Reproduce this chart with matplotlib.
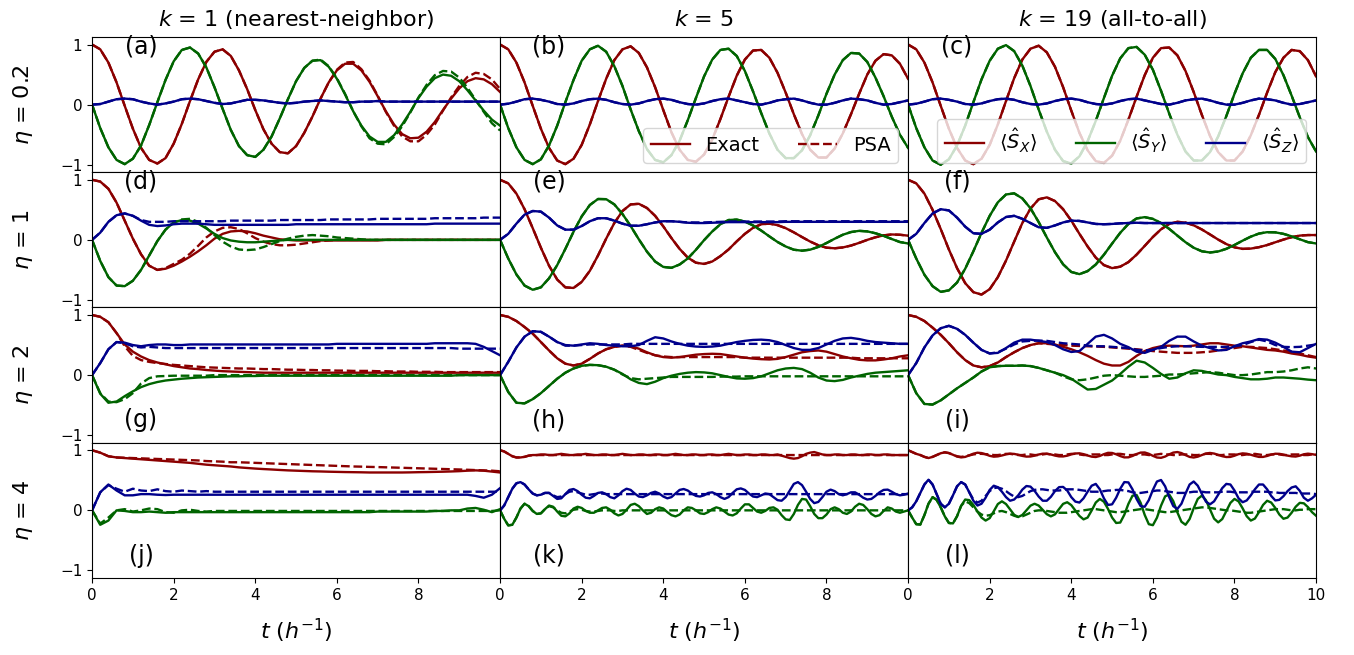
import numpy as np
import matplotlib
matplotlib.use("Agg")
import matplotlib.pyplot as plt

# sample times in units of 1/h
t_coarse = np.linspace(0, 10, 51)   # step 0.2
t_fine = np.linspace(0, 10, 101)    # step 0.1 (fast eta = 4 panels)

# ---------------- row eta = 0.2 ----------------
a_sx = [1.00, 0.92, 0.70, 0.37, -0.02, -0.40, -0.72, -0.92, -0.98, -0.89,
        -0.65, -0.32, 0.06, 0.42, 0.71, 0.88, 0.92, 0.81, 0.57, 0.26,
        -0.09, -0.41, -0.65, -0.79, -0.81, -0.69, -0.47, -0.20, 0.10, 0.37,
        0.57, 0.68, 0.68, 0.57, 0.38, 0.14, -0.11, -0.33, -0.49, -0.56,
        -0.55, -0.45, -0.29, -0.09, 0.10, 0.27, 0.39, 0.44, 0.42, 0.34,
        0.21]
a_sx_psa = [1.00, 0.92, 0.70, 0.37, -0.02, -0.40, -0.72, -0.92, -0.98, -0.89,
            -0.65, -0.32, 0.06, 0.42, 0.71, 0.88, 0.92, 0.81, 0.57, 0.26,
            -0.09, -0.41, -0.65, -0.79, -0.81, -0.69, -0.47, -0.20, 0.10, 0.37,
            0.58, 0.70, 0.71, 0.59, 0.40, 0.15, -0.12, -0.35, -0.53, -0.61,
            -0.61, -0.50, -0.33, -0.10, 0.12, 0.31, 0.46, 0.53, 0.51, 0.42,
            0.26]
a_sy = [0.00, -0.39, -0.71, -0.92, -0.99, -0.90, -0.68, -0.34, 0.04, 0.41,
        0.72, 0.91, 0.95, 0.85, 0.62, 0.29, -0.07, -0.42, -0.69, -0.84,
        -0.87, -0.75, -0.53, -0.23, 0.09, 0.39, 0.61, 0.73, 0.74, 0.63,
        0.43, 0.17, -0.11, -0.35, -0.53, -0.62, -0.62, -0.51, -0.33, -0.12,
        0.11, 0.30, 0.44, 0.50, 0.48, 0.39, 0.24, 0.07, -0.10, -0.25,
        -0.35]
a_sy_psa = [0.00, -0.39, -0.71, -0.92, -0.99, -0.90, -0.68, -0.34, 0.04, 0.41,
            0.72, 0.91, 0.95, 0.85, 0.62, 0.29, -0.07, -0.42, -0.69, -0.84,
            -0.87, -0.75, -0.53, -0.23, 0.09, 0.39, 0.61, 0.73, 0.75, 0.64,
            0.44, 0.18, -0.11, -0.36, -0.56, -0.65, -0.66, -0.54, -0.36, -0.13,
            0.12, 0.33, 0.49, 0.56, 0.55, 0.45, 0.28, 0.08, -0.12, -0.31,
            -0.43]
a_sz = [0.00, 0.01, 0.05, 0.09, 0.10, 0.09, 0.05, 0.02, 0.00, 0.02,
        0.05, 0.09, 0.10, 0.09, 0.06, 0.03, 0.01, 0.02, 0.05, 0.08,
        0.08, 0.07, 0.05, 0.03, 0.02, 0.03, 0.05, 0.06, 0.07, 0.06,
        0.05, 0.04, 0.04, 0.05, 0.05, 0.06, 0.05, 0.05, 0.05, 0.05,
        0.05, 0.05, 0.05, 0.05, 0.05, 0.05, 0.05, 0.05, 0.05, 0.05,
        0.05]
a_sz_psa = a_sz

b_sx = [1.00, 0.92, 0.70, 0.37, -0.02, -0.40, -0.72, -0.93, -0.99, -0.90,
        -0.67, -0.33, 0.06, 0.43, 0.74, 0.92, 0.97, 0.86, 0.62, 0.29,
        -0.09, -0.46, -0.75, -0.92, -0.95, -0.83, -0.58, -0.24, 0.13, 0.48,
        0.75, 0.90, 0.91, 0.78, 0.53, 0.20, -0.16, -0.49, -0.75, -0.88,
        -0.88, -0.73, -0.48, -0.16, 0.18, 0.50, 0.73, 0.84, 0.82, 0.68,
        0.43]
b_sy = [0.00, -0.39, -0.71, -0.92, -0.99, -0.91, -0.68, -0.35, 0.04, 0.41,
        0.73, 0.92, 0.98, 0.88, 0.64, 0.31, -0.08, -0.44, -0.74, -0.92,
        -0.96, -0.84, -0.60, -0.26, 0.11, 0.47, 0.75, 0.91, 0.93, 0.81,
        0.56, 0.22, -0.14, -0.48, -0.75, -0.89, -0.89, -0.76, -0.51, -0.18,
        0.18, 0.50, 0.74, 0.86, 0.85, 0.71, 0.45, 0.14, -0.20, -0.50,
        -0.72]
b_sz = [0.00, 0.015, 0.05, 0.09, 0.10, 0.08, 0.05, 0.01, 0.00, 0.02,
        0.06, 0.09, 0.10, 0.08, 0.04, 0.01, 0.00, 0.02, 0.06, 0.09,
        0.10, 0.08, 0.04, 0.01, 0.00, 0.02, 0.06, 0.09, 0.10, 0.07,
        0.04, 0.01, 0.00, 0.03, 0.07, 0.09, 0.10, 0.07, 0.03, 0.00,
        0.00, 0.03, 0.07, 0.10, 0.09, 0.07, 0.03, 0.00, 0.01, 0.04,
        0.07]
b_sx_psa, b_sy_psa, b_sz_psa = b_sx, b_sy, b_sz

c_sx = [1.00, 0.92, 0.70, 0.37, -0.02, -0.40, -0.72, -0.93, -0.99, -0.90,
        -0.67, -0.33, 0.06, 0.44, 0.75, 0.93, 0.98, 0.87, 0.63, 0.29,
        -0.10, -0.47, -0.76, -0.94, -0.97, -0.85, -0.60, -0.25, 0.13, 0.49,
        0.78, 0.94, 0.95, 0.82, 0.56, 0.21, -0.17, -0.52, -0.79, -0.93,
        -0.93, -0.78, -0.51, -0.17, 0.20, 0.54, 0.78, 0.91, 0.89, 0.74,
        0.47]
c_sy = [0.00, -0.39, -0.71, -0.93, -1.00, -0.91, -0.68, -0.35, 0.04, 0.42,
        0.73, 0.93, 0.99, 0.89, 0.65, 0.31, -0.08, -0.45, -0.75, -0.94,
        -0.98, -0.86, -0.61, -0.27, 0.11, 0.48, 0.77, 0.94, 0.96, 0.83,
        0.58, 0.23, -0.15, -0.50, -0.78, -0.93, -0.93, -0.79, -0.53, -0.19,
        0.18, 0.52, 0.78, 0.91, 0.91, 0.76, 0.49, 0.15, -0.21, -0.54,
        -0.78]
c_sz = b_sz
c_sx_psa, c_sy_psa, c_sz_psa = c_sx, c_sy, c_sz

# ---------------- row eta = 1 ----------------
d_sx = [1.00, 0.97, 0.85, 0.62, 0.32, 0.02, -0.24, -0.43, -0.50, -0.48,
        -0.43, -0.36, -0.28, -0.19, -0.09, 0.02, 0.10, 0.14, 0.15, 0.14,
        0.11, 0.07, 0.04, 0.01, 0.00, -0.01, -0.01, -0.01, -0.01, -0.01,
        -0.01, -0.01, -0.01, -0.01, -0.01, -0.01] + [0.00] * 15
d_sx_psa = [1.00, 0.97, 0.85, 0.62, 0.32, 0.02, -0.24, -0.43, -0.50, -0.47,
            -0.40, -0.33, -0.23, -0.10, 0.04, 0.14, 0.20, 0.21, 0.18, 0.11,
            0.03, -0.03, -0.07, -0.09, -0.09, -0.08, -0.06, -0.04, -0.02, -0.01] + [0.00] * 21
d_sy = [0.00, -0.35, -0.62, -0.76, -0.77, -0.68, -0.50, -0.26, -0.02, 0.17,
        0.29, 0.33, 0.32, 0.27, 0.19, 0.10, 0.03, -0.01, -0.03, -0.04,
        -0.04, -0.03, -0.02, -0.01] + [0.00] * 27
d_sy_psa = [0.00, -0.35, -0.62, -0.76, -0.77, -0.68, -0.50, -0.26, -0.02, 0.17,
            0.29, 0.34, 0.35, 0.30, 0.20, 0.08, -0.03, -0.11, -0.16, -0.17,
            -0.16, -0.12, -0.07, -0.02, 0.02, 0.05, 0.07, 0.08, 0.07, 0.06,
            0.04, 0.03, 0.02, 0.01] + [0.00] * 17
d_sz = [0.00, 0.12, 0.30, 0.41, 0.44, 0.40, 0.32, 0.25, 0.23, 0.24,
        0.26, 0.27, 0.27, 0.27, 0.26, 0.25, 0.25, 0.25, 0.25, 0.25,
        0.25, 0.25, 0.25, 0.25, 0.25, 0.26, 0.26, 0.26, 0.26, 0.26] + [0.26] * 12 + [0.27] * 9
d_sz_psa = [0.00, 0.12, 0.30, 0.41, 0.44, 0.40, 0.33, 0.30, 0.30, 0.30,
            0.31, 0.31, 0.31, 0.31, 0.31, 0.31, 0.31, 0.32, 0.32, 0.32,
            0.32, 0.32, 0.32, 0.33, 0.33, 0.33, 0.33, 0.33, 0.33, 0.34,
            0.34, 0.34, 0.34, 0.34, 0.34, 0.35, 0.35, 0.35, 0.35, 0.35,
            0.35, 0.35, 0.36, 0.36, 0.36, 0.36, 0.36, 0.36, 0.37, 0.37,
            0.37]

e_sx = [1.00, 0.94, 0.77, 0.51, 0.195, -0.13, -0.43, -0.66, -0.79, -0.80,
        -0.70, -0.515, -0.26, 0.02, 0.28, 0.48, 0.59, 0.60, 0.53, 0.40,
        0.225, 0.03, -0.15, -0.295, -0.38, -0.40, -0.36, -0.27, -0.16, -0.025,
        0.10, 0.20, 0.26, 0.27, 0.245, 0.195, 0.125, 0.047, -0.028, -0.09,
        -0.13, -0.14, -0.126, -0.095, -0.05, 0.00, 0.043, 0.075, 0.09, 0.085,
        0.07]
e_sy = [0.00, -0.31, -0.575, -0.76, -0.83, -0.79, -0.64, -0.42, -0.15, 0.135,
        0.39, 0.58, 0.68, 0.677, 0.59, 0.43, 0.23, 0.01, -0.196, -0.36,
        -0.45, -0.465, -0.41, -0.31, -0.165, -0.005, 0.14, 0.26, 0.33, 0.337,
        0.305, 0.24, 0.155, 0.058, -0.035, -0.11, -0.164, -0.18, -0.163, -0.117,
        -0.053, 0.019, 0.085, 0.13, 0.15, 0.141, 0.11, 0.067, 0.014, -0.036,
        -0.06]
e_sz = [0.00, 0.10, 0.27, 0.42, 0.48, 0.47, 0.37, 0.24, 0.17, 0.17,
        0.23, 0.31, 0.36, 0.36, 0.32, 0.27, 0.235, 0.235, 0.26, 0.29,
        0.31, 0.31, 0.30, 0.285, 0.28, 0.28, 0.285, 0.29, 0.295, 0.295] + [0.295] * 5 + [0.30] * 16
e_sz_psa = [0.00, 0.10, 0.27, 0.42, 0.48, 0.47, 0.37, 0.24, 0.17, 0.17,
            0.23, 0.31, 0.36, 0.36, 0.32, 0.27, 0.235, 0.235, 0.26, 0.29,
            0.31, 0.31, 0.30, 0.29, 0.29, 0.29, 0.295, 0.30, 0.305, 0.305] + [0.305] * 5 + [0.31] * 16
e_sx_psa, e_sy_psa = e_sx, e_sy

f_sx = [1.00, 0.94, 0.77, 0.50, 0.18, -0.16, -0.47, -0.72, -0.87, -0.91,
        -0.82, -0.62, -0.345, -0.03, 0.28, 0.52, 0.675, 0.707, 0.646, 0.51,
        0.32, 0.10, -0.11, -0.295, -0.42, -0.47, -0.446, -0.37, -0.246, -0.10,
        0.048, 0.176, 0.265, 0.30, 0.287, 0.242, 0.173, 0.09, 0.005, -0.07,
        -0.124, -0.15, -0.145, -0.122, -0.086, -0.04, 0.005, 0.044, 0.071, 0.08,
        0.08]
f_sy = [0.00, -0.31, -0.58, -0.77, -0.865, -0.84, -0.71, -0.48, -0.19, 0.117,
        0.40, 0.625, 0.755, 0.774, 0.69, 0.525, 0.297, 0.04, -0.205, -0.407,
        -0.534, -0.57, -0.52, -0.41, -0.247, -0.062, 0.118, 0.265, 0.356, 0.378,
        0.349, 0.28, 0.183, 0.071, -0.039, -0.131, -0.19, -0.21, -0.193, -0.149,
        -0.085, -0.013, 0.054, 0.105, 0.128, 0.125, 0.10, 0.059, 0.01, -0.038,
        -0.06]
f_sz = [0.00, 0.10, 0.28, 0.44, 0.51, 0.49, 0.37, 0.22, 0.11, 0.10,
        0.17, 0.29, 0.38, 0.40, 0.35, 0.28, 0.21, 0.20, 0.24, 0.29,
        0.32, 0.315, 0.29, 0.265, 0.26, 0.265, 0.275, 0.28, 0.285, 0.28] + [0.28] * 21
f_sx_psa, f_sy_psa, f_sz_psa = f_sx, f_sy, f_sz

# ---------------- row eta = 2 ----------------
g_sx = [1.00, 0.97, 0.88, 0.70, 0.51, 0.39, 0.31, 0.25, 0.21, 0.18,
        0.15, 0.13, 0.11, 0.10, 0.085, 0.075, 0.065, 0.06, 0.055, 0.05,
        0.045] + [0.04] * 30
g_sx_psa = [1.00, 0.97, 0.88, 0.70, 0.48, 0.32, 0.25, 0.22, 0.20, 0.185,
            0.17, 0.16, 0.15, 0.14, 0.13, 0.125, 0.12, 0.115, 0.11, 0.11,
            0.105, 0.10, 0.10, 0.095, 0.09, 0.09, 0.085, 0.085, 0.08, 0.08,
            0.075, 0.075, 0.07, 0.07, 0.07, 0.065, 0.065, 0.06, 0.06, 0.06,
            0.055, 0.055, 0.055, 0.05, 0.05, 0.05, 0.05, 0.05, 0.05, 0.05,
            0.05]
g_sy = [0.00, -0.31, -0.46, -0.44, -0.35, -0.27, -0.20, -0.15, -0.115, -0.09,
        -0.075, -0.06, -0.05, -0.04, -0.035, -0.03, -0.025, -0.02, -0.02, -0.015,
        -0.015] + [-0.01] * 24 + [0.00] * 6
g_sy_psa = [0.00, -0.30, -0.44, -0.45, -0.40, -0.30, -0.14, -0.05, -0.02, -0.015] + \
           [-0.01] * 5 + [0.00] * 36
g_sz = [0.00, 0.20, 0.43, 0.55, 0.54, 0.50, 0.48, 0.50, 0.51, 0.51,
        0.50, 0.50, 0.51, 0.51, 0.51, 0.51, 0.51, 0.51, 0.51, 0.51] + [0.51] * 10 + [0.52] * 10 + \
       [0.52, 0.52, 0.53, 0.53, 0.53, 0.53, 0.53, 0.52, 0.47, 0.40, 0.33]
g_sz_psa = [0.00, 0.20, 0.43, 0.55, 0.53, 0.48, 0.46, 0.47, 0.46, 0.45] + [0.45] * 35 + [0.44] * 6

h_sx = [1.00, 0.97, 0.90, 0.80, 0.69, 0.55, 0.41, 0.28, 0.19, 0.16,
        0.19, 0.27, 0.36, 0.43, 0.47, 0.49, 0.48, 0.44, 0.38, 0.33,
        0.30, 0.29, 0.30, 0.32, 0.34, 0.35, 0.355, 0.35, 0.33, 0.31,
        0.29, 0.275, 0.265, 0.26, 0.27, 0.30, 0.34, 0.38, 0.40, 0.41,
        0.39, 0.35, 0.31, 0.28, 0.255, 0.245, 0.245, 0.26, 0.28, 0.31,
        0.33]
h_sx_psa = [1.00, 0.97, 0.90, 0.80, 0.69, 0.55, 0.41, 0.28, 0.19, 0.16,
            0.19, 0.27, 0.36, 0.43, 0.47, 0.49, 0.47, 0.42, 0.37, 0.33,
            0.31] + [0.30] * 9 + [0.29] * 14 + [0.28] * 7
h_sy = [0.00, -0.28, -0.46, -0.47, -0.40, -0.30, -0.18, -0.06, 0.04, 0.11,
        0.155, 0.17, 0.165, 0.14, 0.09, 0.02, -0.07, -0.13, -0.15, -0.11,
        -0.05, -0.01, 0.02, 0.04, 0.05, 0.045, 0.03, 0.00, -0.03, -0.055,
        -0.06, -0.05, -0.02, 0.03, 0.08, 0.11, 0.12, 0.10, 0.04, -0.04,
        -0.09, -0.10, -0.08, -0.04, -0.01, 0.02, 0.04, 0.05, 0.06, 0.07,
        0.08]
h_sy_psa = [0.00, -0.28, -0.46, -0.47, -0.40, -0.30, -0.18, -0.06, 0.04, 0.11,
            0.155, 0.17, 0.165, 0.14, 0.09, 0.01, -0.05, -0.07, -0.06, -0.05,
            -0.04, -0.03, -0.03, -0.03, -0.03, -0.03, -0.03, -0.025, -0.025, -0.025] + [-0.02] * 21
h_sz = [0.00, 0.22, 0.46, 0.64, 0.73, 0.72, 0.64, 0.55, 0.50, 0.49,
        0.51, 0.53, 0.52, 0.50, 0.49, 0.48, 0.48, 0.50, 0.57, 0.63,
        0.61, 0.56, 0.52, 0.49, 0.475, 0.47, 0.475, 0.49, 0.52, 0.55,
        0.57, 0.585, 0.59, 0.58, 0.55, 0.50, 0.45, 0.42, 0.42, 0.45,
        0.51, 0.57, 0.61, 0.62, 0.60, 0.57, 0.55, 0.54, 0.53, 0.52,
        0.52]
h_sz_psa = [0.00, 0.22, 0.46, 0.64, 0.73, 0.72, 0.64, 0.55, 0.49, 0.49,
            0.50, 0.51, 0.51, 0.51, 0.51, 0.51] + [0.52] * 35

i_sx = [1.00, 0.97, 0.90, 0.79, 0.67, 0.53, 0.38, 0.25, 0.16, 0.13,
        0.15, 0.21, 0.30, 0.38, 0.45, 0.50, 0.53, 0.53, 0.51, 0.47,
        0.43, 0.38, 0.32, 0.25, 0.19, 0.16, 0.16, 0.22, 0.32, 0.40,
        0.45, 0.48, 0.49, 0.485, 0.48, 0.49, 0.51, 0.53, 0.53, 0.51,
        0.49, 0.48, 0.46, 0.44, 0.42, 0.41, 0.39, 0.36, 0.34, 0.31,
        0.29]
i_sx_psa = [1.00, 0.97, 0.90, 0.79, 0.67, 0.53, 0.38, 0.25, 0.16, 0.13,
            0.15, 0.21, 0.30, 0.38, 0.45, 0.50, 0.53, 0.52, 0.51, 0.50,
            0.49, 0.485, 0.48, 0.475, 0.47, 0.46, 0.45, 0.44, 0.43, 0.415,
            0.40, 0.39, 0.38, 0.37, 0.37, 0.37, 0.38, 0.39, 0.41, 0.43,
            0.45, 0.47, 0.47, 0.46, 0.45, 0.43, 0.41, 0.39, 0.36, 0.33,
            0.30]
i_sy = [0.00, -0.30, -0.48, -0.49, -0.42, -0.32, -0.22, -0.13, -0.04, 0.06,
        0.13, 0.15, 0.155, 0.155, 0.16, 0.15, 0.12, 0.08, 0.04, 0.00,
        -0.06, -0.15, -0.24, -0.23, -0.16, -0.09, 0.02, 0.14, 0.24, 0.21,
        0.12, 0.02, -0.06, -0.04, 0.03, 0.08, 0.07, 0.04, 0.01, 0.00,
        -0.03, -0.05, -0.07, -0.07, -0.06, -0.04, -0.04, -0.05, -0.06, -0.075,
        -0.085]
i_sy_psa = [0.00, -0.30, -0.48, -0.49, -0.42, -0.32, -0.22, -0.13, -0.04, 0.06,
            0.13, 0.15, 0.155, 0.155, 0.16, 0.15, 0.12, 0.08, 0.04, -0.02,
            -0.07, -0.085, -0.07, -0.04, -0.01, 0.00, -0.01, -0.02, -0.03, -0.03,
            -0.02, -0.01, 0.01, 0.01, 0.02, 0.03, 0.04, 0.05, 0.04, 0.02,
            0.00, 0.00, 0.01, 0.03, 0.05, 0.05, 0.06, 0.08, 0.11, 0.13,
            0.11]
i_sz = [0.00, 0.20, 0.46, 0.66, 0.78, 0.82, 0.77, 0.67, 0.54, 0.42,
        0.36, 0.37, 0.45, 0.54, 0.59, 0.59, 0.57, 0.55, 0.50, 0.43,
        0.385, 0.40, 0.52, 0.64, 0.67, 0.61, 0.52, 0.465, 0.39, 0.37,
        0.42, 0.47, 0.57, 0.64, 0.64, 0.56, 0.49, 0.45, 0.41, 0.42,
        0.48, 0.53, 0.56, 0.60, 0.59, 0.54, 0.47, 0.39, 0.38, 0.45,
        0.52]
i_sz_psa = [0.00, 0.20, 0.46, 0.66, 0.78, 0.82, 0.77, 0.67, 0.54, 0.42,
            0.36, 0.38, 0.44, 0.51, 0.56, 0.57, 0.575, 0.57, 0.55, 0.53,
            0.52, 0.51, 0.49, 0.48, 0.48, 0.47, 0.46, 0.45, 0.42, 0.41,
            0.42, 0.45, 0.47, 0.48, 0.48, 0.475, 0.47, 0.47, 0.47, 0.47,
            0.48, 0.50, 0.55, 0.59, 0.56, 0.50, 0.47, 0.465, 0.47, 0.49,
            0.51]

# ---------------- row eta = 4 ----------------
j_sx = [1.00, 0.96, 0.90, 0.88, 0.87, 0.86, 0.85, 0.84, 0.83, 0.82,
        0.81, 0.80, 0.79, 0.775, 0.76, 0.75, 0.74, 0.73, 0.715, 0.705,
        0.695, 0.687, 0.68, 0.672, 0.665, 0.66, 0.655, 0.65, 0.647, 0.643,
        0.64, 0.637, 0.635, 0.633, 0.63, 0.63, 0.63, 0.63, 0.63, 0.632,
        0.635, 0.637, 0.64, 0.643, 0.647, 0.652, 0.66, 0.665, 0.66, 0.645,
        0.63]
j_sx_psa = [1.00, 0.96, 0.90, 0.88, 0.875, 0.87, 0.865, 0.86, 0.855, 0.85,
            0.845, 0.84, 0.835, 0.83, 0.82, 0.815, 0.81, 0.80, 0.80, 0.795,
            0.79, 0.785, 0.78, 0.775, 0.77, 0.765, 0.76, 0.755, 0.75, 0.745,
            0.74, 0.735, 0.73, 0.727, 0.723, 0.72, 0.716, 0.712, 0.708, 0.704,
            0.70, 0.696, 0.692, 0.688, 0.684, 0.68, 0.675, 0.67, 0.665, 0.66,
            0.65]
j_sy = [0.00, -0.24, -0.17, 0.00, -0.01, -0.03, -0.03, -0.02, -0.03, -0.04] + [-0.03] * 25 + \
       [-0.02] * 7 + [-0.01, -0.01, 0.00, 0.00, 0.03, 0.04, 0.01, -0.03, 0.02]
j_sy_psa = [0.00, -0.22, -0.12, 0.00, 0.02, -0.02, 0.00, 0.03, 0.02, -0.03,
            -0.04, 0.00, 0.01, -0.01, -0.02] + [-0.01] * 35 + [0.00]
j_sz = [0.00, 0.30, 0.43, 0.33, 0.25, 0.25, 0.27, 0.27, 0.26, 0.255] + [0.26] * 37 + \
       [0.24, 0.21, 0.26, 0.37]
j_sz_psa = [0.00, 0.30, 0.42, 0.36, 0.31, 0.36, 0.33, 0.32, 0.35, 0.32,
            0.31, 0.33, 0.32, 0.31, 0.32] + [0.31] * 36

k_sx = [1.00, 0.98, 0.94, 0.90, 0.88, 0.88, 0.89, 0.91, 0.92, 0.92,
        0.93, 0.93, 0.92, 0.92, 0.93, 0.94, 0.93, 0.92, 0.92, 0.93,
        0.93, 0.94, 0.93, 0.92, 0.92, 0.93, 0.93, 0.92, 0.92, 0.93,
        0.94, 0.93, 0.92, 0.92, 0.93, 0.93, 0.92, 0.92, 0.93, 0.93,
        0.92, 0.92, 0.93, 0.94, 0.93, 0.92, 0.92, 0.93, 0.93, 0.92,
        0.92, 0.93, 0.93, 0.92, 0.92, 0.93, 0.94, 0.93, 0.92, 0.92,
        0.93, 0.93, 0.92, 0.92, 0.93, 0.93, 0.92, 0.92, 0.93, 0.91,
        0.89, 0.87, 0.86, 0.87, 0.90, 0.94, 0.96, 0.97, 0.95, 0.93,
        0.92, 0.92, 0.93, 0.93, 0.92, 0.92, 0.93, 0.93, 0.92, 0.92,
        0.93, 0.93, 0.92, 0.92, 0.93, 0.93, 0.92, 0.92, 0.92, 0.92,
        0.92]
k_sx_psa = [1.00, 0.98, 0.94, 0.90, 0.88, 0.88, 0.89, 0.91, 0.92, 0.92] + [0.92] * 91
k_sy = [0.00, -0.14, -0.25, -0.24, -0.12, 0.03, 0.11, 0.07, -0.01, -0.06,
        -0.05, 0.02, 0.08, 0.06, -0.02, -0.09, -0.10, -0.05, 0.03, 0.06,
        0.04, -0.01, -0.04, -0.04, 0.00, 0.04, 0.05, 0.01, -0.05, -0.085,
        -0.06, 0.01, 0.09, 0.11, 0.07, 0.00, -0.06, -0.04, 0.02, 0.05,
        0.03, -0.03, -0.08, -0.10, -0.07, 0.00, 0.05, 0.04, 0.00, -0.05,
        -0.06, -0.03, 0.02, 0.05, 0.03, -0.02, -0.07, -0.085, -0.05, 0.03,
        0.10, 0.10, 0.04, -0.02, -0.04, -0.01, 0.04, 0.05, 0.01, -0.08,
        -0.15, -0.16, -0.06, 0.09, 0.19, 0.18, 0.07, -0.06, -0.13, -0.13,
        -0.07, 0.02, 0.05, 0.02, -0.04, -0.06, -0.02, 0.06, 0.11, 0.09,
        0.02, -0.06, -0.10, -0.08, -0.01, 0.05, 0.03, -0.02, -0.04, -0.02,
        0.00]
k_sy_psa = [0.00, -0.14, -0.25, -0.24, -0.12, 0.03, 0.11, 0.07, -0.01, -0.06,
            -0.05, 0.02, 0.07, 0.05, 0.00, -0.04, -0.05, -0.02, 0.01, 0.02,
            0.01, -0.01, -0.02, -0.02, -0.01, 0.00, 0.00, 0.00, -0.01, -0.01] + [0.00] * 71
k_sz = [0.00, 0.08, 0.22, 0.36, 0.45, 0.47, 0.43, 0.35, 0.28, 0.25,
        0.26, 0.29, 0.29, 0.24, 0.19, 0.20, 0.27, 0.34, 0.355, 0.32,
        0.26, 0.21, 0.20, 0.24, 0.29, 0.30, 0.27, 0.22, 0.20, 0.25,
        0.32, 0.36, 0.34, 0.28, 0.23, 0.22, 0.25, 0.29, 0.31, 0.28,
        0.23, 0.20, 0.22, 0.28, 0.34, 0.355, 0.33, 0.28, 0.24, 0.23,
        0.25, 0.29, 0.30, 0.27, 0.22, 0.19, 0.22, 0.29, 0.35, 0.365,
        0.34, 0.28, 0.23, 0.22, 0.25, 0.28, 0.27, 0.22, 0.17, 0.16,
        0.22, 0.33, 0.44, 0.47, 0.42, 0.31, 0.19, 0.12, 0.14, 0.22,
        0.31, 0.345, 0.32, 0.27, 0.25, 0.27, 0.30, 0.30, 0.26, 0.21,
        0.18, 0.19, 0.24, 0.30, 0.34, 0.345, 0.31, 0.27, 0.25, 0.26,
        0.28]
k_sz_psa = [0.00, 0.08, 0.22, 0.36, 0.45, 0.47, 0.43, 0.35, 0.28, 0.25,
            0.26, 0.29, 0.29, 0.25, 0.22, 0.23, 0.27, 0.31, 0.32, 0.30,
            0.28, 0.26, 0.26, 0.27, 0.28, 0.28, 0.27, 0.27, 0.27, 0.27] + [0.27] * 71

l_sx = [1.00, 0.97, 0.94, 0.92, 0.89, 0.87, 0.89, 0.92, 0.95, 0.965,
        0.953, 0.925, 0.895, 0.881, 0.889, 0.915, 0.943, 0.959, 0.953, 0.933,
        0.907, 0.893, 0.898, 0.913, 0.931, 0.943, 0.939, 0.925, 0.906, 0.894,
        0.896, 0.91, 0.929, 0.943, 0.943, 0.93, 0.911, 0.898, 0.897, 0.909,
        0.931, 0.946, 0.949, 0.935, 0.913, 0.893, 0.887, 0.905, 0.935, 0.957,
        0.955, 0.933, 0.903, 0.881, 0.882, 0.905, 0.937, 0.961, 0.963, 0.941,
        0.907, 0.879, 0.874, 0.895, 0.931, 0.961, 0.97, 0.953, 0.919, 0.889,
        0.879, 0.893, 0.92, 0.946, 0.955, 0.945, 0.923, 0.901, 0.887, 0.889,
        0.909, 0.935, 0.948, 0.942, 0.925, 0.905, 0.889, 0.889, 0.905, 0.927,
        0.942, 0.94, 0.928, 0.911, 0.899, 0.895, 0.91, 0.933, 0.943, 0.935,
        0.923]
l_sx_psa = [1.00, 0.97, 0.94, 0.92, 0.89, 0.87, 0.89, 0.92, 0.95, 0.965,
            0.953, 0.925, 0.90, 0.89, 0.90, 0.915, 0.93, 0.94, 0.94, 0.935,
            0.93, 0.92, 0.92, 0.93, 0.94, 0.94, 0.93, 0.92, 0.92, 0.93,
            0.93, 0.92, 0.92, 0.93, 0.94, 0.93, 0.93, 0.92, 0.92, 0.93,
            0.94, 0.94, 0.93, 0.92, 0.92, 0.93, 0.93, 0.93, 0.92, 0.92,
            0.93, 0.94, 0.94, 0.93, 0.92, 0.92, 0.93, 0.93, 0.93, 0.92,
            0.92, 0.93, 0.94, 0.93, 0.93, 0.92, 0.92, 0.93, 0.93, 0.93,
            0.92, 0.92, 0.93, 0.94, 0.94, 0.93, 0.92, 0.92, 0.93, 0.93,
            0.93, 0.92, 0.92, 0.93, 0.93, 0.94, 0.93, 0.92, 0.92, 0.93,
            0.93, 0.93, 0.92, 0.92, 0.93, 0.93, 0.93, 0.92, 0.92, 0.93,
            0.93]
l_sy = [0.00, -0.12, -0.23, -0.236, -0.08, 0.11, 0.22, 0.175, 0.05, -0.10,
        -0.21, -0.217, -0.098, 0.075, 0.18, 0.17, 0.09, -0.02, -0.12, -0.17,
        -0.13, -0.015, 0.105, 0.15, 0.105, 0.016, -0.074, -0.11, -0.077, 0.00,
        0.078, 0.11, 0.08, 0.008, -0.064, -0.10, -0.067, 0.021, 0.108, 0.135,
        0.087, -0.003, -0.093, -0.15, -0.12, -0.002, 0.13, 0.19, 0.143, 0.024,
        -0.12, -0.21, -0.203, -0.073, 0.108, 0.243, 0.257, 0.125, -0.077, -0.23,
        -0.247, -0.122, 0.079, 0.233, 0.265, 0.153, -0.033, -0.19, -0.24, -0.145,
        0.034, 0.19, 0.245, 0.169, 0.016, -0.138, -0.20, -0.145, -0.011, 0.124,
        0.19, 0.149, 0.033, -0.098, -0.17, -0.137, -0.03, 0.09, 0.16, 0.13,
        0.04, -0.07, -0.14, -0.12, -0.04, 0.06, 0.125, 0.117, 0.054, -0.03,
        -0.09]
l_sy_psa = [0.00, -0.12, -0.23, -0.236, -0.08, 0.11, 0.22, 0.175, 0.05, -0.10,
            -0.21, -0.217, -0.098, 0.075, 0.15, 0.12, 0.05, -0.02, -0.07, -0.09,
            -0.08, -0.05, -0.02, -0.01, -0.03, -0.06, -0.09, -0.11, -0.10, -0.07,
            -0.04, -0.01, 0.00, 0.00, -0.01, -0.02, -0.03, -0.04, -0.04, -0.04,
            -0.03, -0.02, -0.01, 0.00, 0.01, 0.02, 0.02, 0.01, 0.00, -0.01,
            -0.02, -0.03, -0.03, -0.02, -0.01, 0.00, 0.01, 0.02, 0.02, 0.01,
            0.00, -0.01, -0.02, -0.03, -0.03, -0.02, -0.01, 0.00, 0.01, 0.02,
            0.03, 0.04, 0.05, 0.05, 0.04, 0.03, 0.02, 0.01, 0.00, 0.00,
            -0.01, -0.02, -0.03, -0.04, -0.04, -0.03, -0.02, -0.01, 0.00, 0.01,
            0.02, 0.02, 0.02, 0.01, 0.00, 0.00, 0.01, 0.01, 0.02, 0.02,
            0.02]
l_sz = [0.00, 0.05, 0.15, 0.29, 0.43, 0.51, 0.43, 0.27, 0.11, 0.05,
        0.11, 0.25, 0.40, 0.47, 0.43, 0.30, 0.16, 0.08, 0.11, 0.21,
        0.34, 0.41, 0.385, 0.31, 0.22, 0.16, 0.18, 0.25, 0.345, 0.405,
        0.395, 0.325, 0.23, 0.16, 0.16, 0.225, 0.32, 0.386, 0.39, 0.33,
        0.22, 0.145, 0.13, 0.20, 0.31, 0.41, 0.44, 0.35, 0.20, 0.09,
        0.10, 0.21, 0.36, 0.47, 0.465, 0.35, 0.19, 0.07, 0.06, 0.17,
        0.34, 0.48, 0.505, 0.40, 0.22, 0.07, 0.025, 0.11, 0.28, 0.43,
        0.48, 0.41, 0.275, 0.145, 0.10, 0.15, 0.26, 0.37, 0.44, 0.43,
        0.33, 0.20, 0.135, 0.165, 0.25, 0.35, 0.43, 0.43, 0.35, 0.24,
        0.165, 0.175, 0.235, 0.32, 0.38, 0.40, 0.325, 0.21, 0.16, 0.20,
        0.26]
l_sz_psa = [0.00, 0.05, 0.15, 0.29, 0.43, 0.51, 0.43, 0.27, 0.11, 0.05,
            0.11, 0.25, 0.40, 0.47, 0.43, 0.30, 0.18, 0.13, 0.16, 0.24,
            0.32, 0.37, 0.38, 0.36, 0.32, 0.27, 0.23, 0.22, 0.24, 0.28,
            0.32, 0.34, 0.35, 0.35, 0.34, 0.33, 0.33, 0.33, 0.34, 0.35,
            0.35, 0.35, 0.34, 0.33, 0.32, 0.31, 0.31, 0.31, 0.32, 0.33,
            0.33, 0.34, 0.34, 0.33, 0.32, 0.30, 0.29, 0.29, 0.30, 0.31,
            0.32, 0.33, 0.33, 0.32, 0.31, 0.30, 0.29, 0.29, 0.29, 0.30,
            0.31, 0.31, 0.31, 0.30, 0.30, 0.30, 0.30, 0.31, 0.31, 0.31,
            0.30, 0.30, 0.30, 0.30, 0.31, 0.31, 0.31, 0.31, 0.31, 0.30,
            0.30, 0.29, 0.29, 0.29, 0.29, 0.29, 0.28, 0.28, 0.28, 0.28,
            0.27]

col_titles = [r"$k$ = 1 (nearest-neighbor)", r"$k$ = 5", r"$k$ = 19 (all-to-all)"]
row_labels = [r"$\eta$ = 0.2", r"$\eta$ = 1", r"$\eta$ = 2", r"$\eta$ = 4"]

panels = [
    ("(a)", t_coarse, a_sx, a_sx_psa, a_sy, a_sy_psa, a_sz, a_sz_psa),
    ("(b)", t_coarse, b_sx, b_sx_psa, b_sy, b_sy_psa, b_sz, b_sz_psa),
    ("(c)", t_coarse, c_sx, c_sx_psa, c_sy, c_sy_psa, c_sz, c_sz_psa),
    ("(d)", t_coarse, d_sx, d_sx_psa, d_sy, d_sy_psa, d_sz, d_sz_psa),
    ("(e)", t_coarse, e_sx, e_sx_psa, e_sy, e_sy_psa, e_sz, e_sz_psa),
    ("(f)", t_coarse, f_sx, f_sx_psa, f_sy, f_sy_psa, f_sz, f_sz_psa),
    ("(g)", t_coarse, g_sx, g_sx_psa, g_sy, g_sy_psa, g_sz, g_sz_psa),
    ("(h)", t_coarse, h_sx, h_sx_psa, h_sy, h_sy_psa, h_sz, h_sz_psa),
    ("(i)", t_coarse, i_sx, i_sx_psa, i_sy, i_sy_psa, i_sz, i_sz_psa),
    ("(j)", t_coarse, j_sx, j_sx_psa, j_sy, j_sy_psa, j_sz, j_sz_psa),
    ("(k)", t_fine, k_sx, k_sx_psa, k_sy, k_sy_psa, k_sz, k_sz_psa),
    ("(l)", t_fine, l_sx, l_sx_psa, l_sy, l_sy_psa, l_sz, l_sz_psa),
]

colors = ["#8b0000", "#006400", "#00008b"]


def main():
    fig, axes = plt.subplots(4, 3, figsize=(13.54, 6.55), dpi=100)
    fig.subplots_adjust(left=0.068, right=0.972, top=0.9435, bottom=0.1176,
                        wspace=0, hspace=0)

    for n, (lab, t, sx, sx_p, sy, sy_p, sz, sz_p) in enumerate(panels):
        r, c = divmod(n, 3)
        ax = axes[r, c]
        lines = []
        for col, ex, ps in zip(colors, (sx, sy, sz), (sx_p, sy_p, sz_p)):
            l1, = ax.plot(t, ex, color=col, lw=1.7)
            l2, = ax.plot(t, ps, color=col, lw=1.7, ls="--")
            lines.append((l1, l2))

        ax.set_xlim(0, 10)
        ax.set_ylim(-1.125, 1.125)
        ax.set_yticks([-1, 0, 1])
        ax.set_xticks([0, 2, 4, 6, 8, 10] if c == 2 else [0, 2, 4, 6, 8])
        ax.tick_params(labelsize=11)
        if c > 0:
            ax.tick_params(left=False, labelleft=False)
        else:
            ax.set_ylabel(row_labels[r], fontsize=16, labelpad=18)
        if r < 3:
            ax.tick_params(bottom=False, labelbottom=False)
        else:
            ax.set_xlabel(r"$t$ ($h^{-1}$)", fontsize=16, labelpad=10)
        if r == 0:
            ax.set_title(col_titles[c], fontsize=16, pad=8)

        ypos = 0.93 if r < 2 else 0.165
        ax.text(0.12, ypos, lab, transform=ax.transAxes, fontsize=17,
                ha="center", va="center")

        if n == 1:
            ax.legend([lines[0][0], lines[0][1]], ["Exact", "PSA"], ncol=2,
                      loc="lower right", fontsize=14)
        if n == 2:
            ax.legend([lines[0][0], lines[1][0], lines[2][0]],
                      [r"$\langle\hat{S}_X\rangle$", r"$\langle\hat{S}_Y\rangle$",
                       r"$\langle\hat{S}_Z\rangle$"],
                      ncol=3, loc="lower right", fontsize=14)

    fig.savefig("out.png", dpi=100)


if __name__ == "__main__":
    main()
